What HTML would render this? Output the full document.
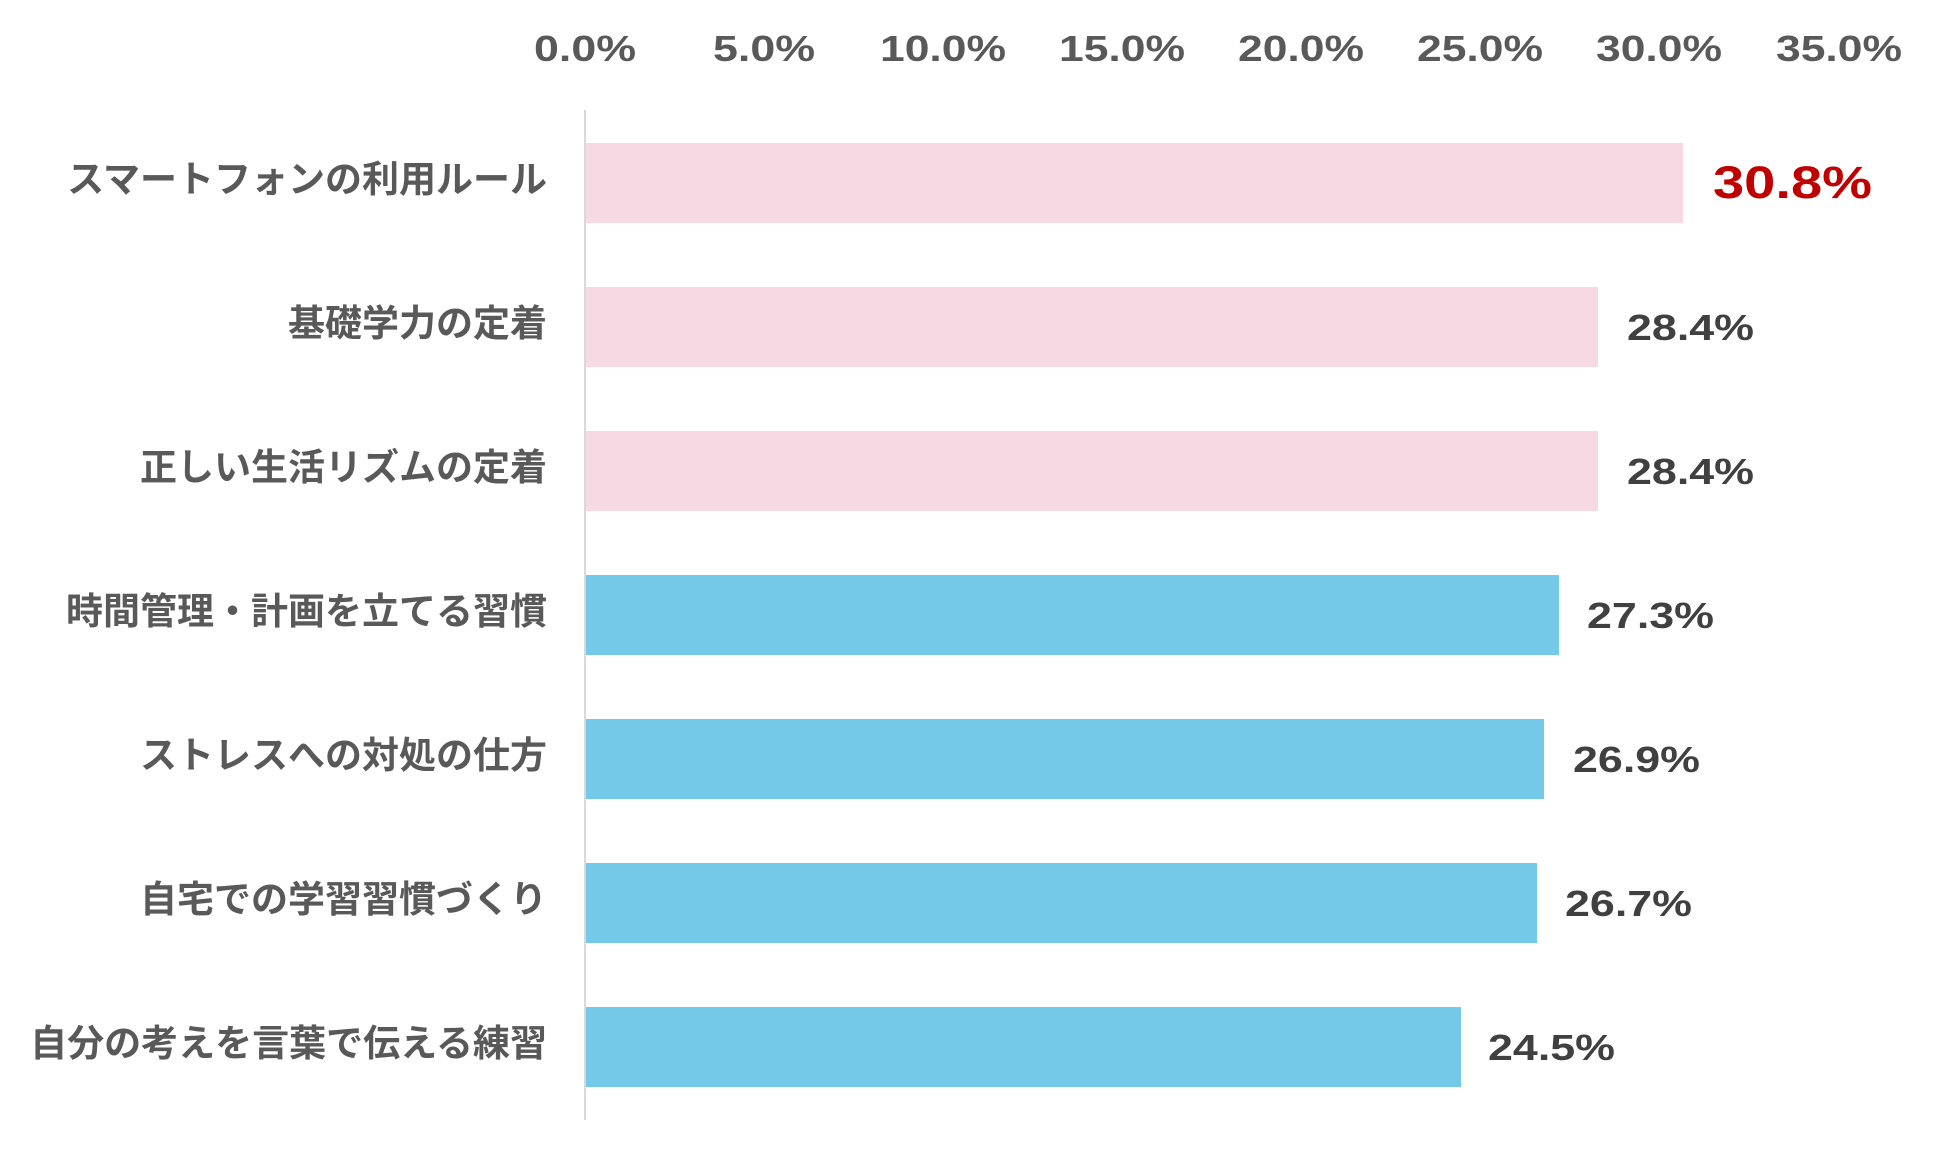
<!DOCTYPE html>
<html><head><meta charset="utf-8"><style>
body{margin:0;background:#fff;}
svg text{font-family:"Liberation Sans","Noto Sans CJK JP",sans-serif;font-weight:bold;}
</style></head><body>
<svg width="1949" height="1170" xmlns="http://www.w3.org/2000/svg">
<g fill="#595959" font-size="36" text-anchor="middle">
<text x="585" y="61" textLength="102" lengthAdjust="spacingAndGlyphs">0.0%</text>
<text x="764" y="61" textLength="102" lengthAdjust="spacingAndGlyphs">5.0%</text>
<text x="943" y="61" textLength="126" lengthAdjust="spacingAndGlyphs">10.0%</text>
<text x="1122" y="61" textLength="126" lengthAdjust="spacingAndGlyphs">15.0%</text>
<text x="1301" y="61" textLength="126" lengthAdjust="spacingAndGlyphs">20.0%</text>
<text x="1480" y="61" textLength="126" lengthAdjust="spacingAndGlyphs">25.0%</text>
<text x="1659" y="61" textLength="126" lengthAdjust="spacingAndGlyphs">30.0%</text>
<text x="1839" y="61" textLength="126" lengthAdjust="spacingAndGlyphs">35.0%</text>
</g>
<line x1="585" y1="110" x2="585" y2="1120" stroke="#d9d9d9" stroke-width="2"/>
<g>
<rect x="586" y="143" width="1097" height="80" fill="#f7d9e4"/>
<rect x="586" y="287" width="1012" height="80" fill="#f7d9e4"/>
<rect x="586" y="431" width="1012" height="80" fill="#f7d9e4"/>
<rect x="586" y="575" width="973" height="80" fill="#75c9e8"/>
<rect x="586" y="719" width="958" height="80" fill="#75c9e8"/>
<rect x="586" y="863" width="951" height="80" fill="#75c9e8"/>
<rect x="586" y="1007" width="875" height="80" fill="#75c9e8"/>
</g>
<g fill="#595959" font-size="37" text-anchor="end">
<text x="547" y="192">スマートフォンの利用ルール</text>
<text x="547" y="336">基礎学力の定着</text>
<text x="547" y="480">正しい生活リズムの定着</text>
<text x="547" y="624">時間管理・計画を立てる習慣</text>
<text x="547" y="768">ストレスへの対処の仕方</text>
<text x="547" y="912">自宅での学習習慣づくり</text>
<text x="547" y="1056">自分の考えを言葉で伝える練習</text>
</g>
<text x="1713" y="198" fill="#c00000" font-size="45" textLength="159" lengthAdjust="spacingAndGlyphs">30.8%</text>
<g fill="#404040" font-size="36">
<text x="1627" y="340" textLength="127" lengthAdjust="spacingAndGlyphs">28.4%</text>
<text x="1627" y="484" textLength="127" lengthAdjust="spacingAndGlyphs">28.4%</text>
<text x="1587" y="628" textLength="127" lengthAdjust="spacingAndGlyphs">27.3%</text>
<text x="1573" y="772" textLength="127" lengthAdjust="spacingAndGlyphs">26.9%</text>
<text x="1565" y="916" textLength="127" lengthAdjust="spacingAndGlyphs">26.7%</text>
<text x="1488" y="1060" textLength="127" lengthAdjust="spacingAndGlyphs">24.5%</text>
</g>
</svg>
</body></html>
